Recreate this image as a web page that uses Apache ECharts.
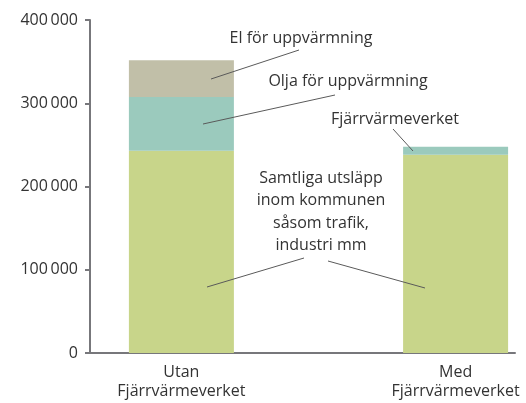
<!DOCTYPE html>
<html>
<head>
<meta charset="utf-8">
<script src="https://cdn.jsdelivr.net/npm/echarts@6/dist/echarts.min.js"></script>
<style>
  html, body { margin: 0; padding: 0; background: #fff; }
  #chart { width: 526px; height: 403px; }
</style>
</head>
<body>
<div id="chart"></div>
<script>
// positions of the two scenarios on the x scale
const categories = ['Utan\nFjärrvärmeverket', 'Med\nFjärrvärmeverket']
const catPos = [1, 4]
const yTicks = [0, 100000, 200000, 300000, 400000]

// stacked components
const samtliga = [242800, 238000]
const olja = [64800, 0]
const fjarr = [0, 9600]
const el = [44000, 0]

const font = '"Open Sans", "Noto Sans", sans-serif'
const textColor = '#333333'
const axisColor = '#77777b'
const leaderColor = '#5a5a5a'

const chart = echarts.init(document.getElementById('chart'))

// value first so that the stack is done on y
const toPairs = arr => arr.map((v, i) => [v ? v : '-', catPos[i]])

// annotation texts + leader lines (layout only)
const notes = [
    { text: 'El för uppvärmning', x: 301, y: 38 },
    { text: 'Olja för uppvärmning', x: 348, y: 81 },
    { text: 'Fjärrvärmeverket', x: 395, y: 119 },
    { text: 'Samtliga utsläpp\ninom kommunen\nsåsom trafik,\nindustri mm', x: 321, y: 212, lh: 22.5 }
]
const leaders = [
    [211, 79, 299, 50],
    [203, 124, 335, 95],
    [393, 129, 413, 151],
    [207, 287, 304, 258],
    [328, 261, 425, 288]
]

const graphic = []
notes.forEach(n => {
    graphic.push({
        type: 'text',
        x: n.x,
        y: n.y,
        z: 10,
        style: {
            text: n.text,
            fill: textColor,
            font: '16px ' + font,
            align: 'center',
            verticalAlign: 'middle',
            lineHeight: n.lh || 20
        }
    })
})
leaders.forEach(l => {
    graphic.push({
        type: 'line',
        z: 10,
        shape: { x1: l[0], y1: l[1], x2: l[2], y2: l[3] },
        style: { stroke: leaderColor, lineWidth: 1 }
    })
})

const barSeries = (name, data, color) => ({
    name,
    type: 'bar',
    stack: 'total',
    barWidth: 105,
    itemStyle: { color },
    encode: { x: 1, y: 0 },
    data: toPairs(data)
})

chart.setOption({
    animation: false,
    grid: { left: 90, right: 11, top: 20, bottom: 50 },
    xAxis: {
        type: 'value',
        min: 0,
        max: 4.65,
        splitLine: { show: false },
        axisLine: { show: true, lineStyle: { color: axisColor, width: 2 } },
        axisTick: { show: false },
        axisLabel: {
            customValues: catPos,
            formatter: v => categories[catPos.indexOf(v)] || '',
            color: textColor,
            fontFamily: font,
            fontSize: 16,
            lineHeight: 19,
            margin: 10
        }
    },
    yAxis: {
        type: 'value',
        min: yTicks[0],
        max: yTicks[yTicks.length - 1],
        interval: 100000,
        splitLine: { show: false },
        axisLine: { show: true, lineStyle: { color: axisColor, width: 2 } },
        axisTick: { show: true, length: 5, lineStyle: { color: axisColor, width: 2 } },
        axisLabel: {
            formatter: v => v === 0 ? '0' : String(v).replace(/(\d{3})$/, '\u2009$1'),
            color: textColor,
            fontFamily: font,
            fontSize: 16,
            margin: 12
        }
    },
    series: [
        barSeries('Samtliga utsläpp', samtliga, '#c8d58a'),
        barSeries('Olja för uppvärmning', olja, '#9bcabd'),
        barSeries('Fjärrvärmeverket', fjarr, '#9bcabd'),
        barSeries('El för uppvärmning', el, '#c1bfa8')
    ],
    graphic
})
</script>
</body>
</html>
